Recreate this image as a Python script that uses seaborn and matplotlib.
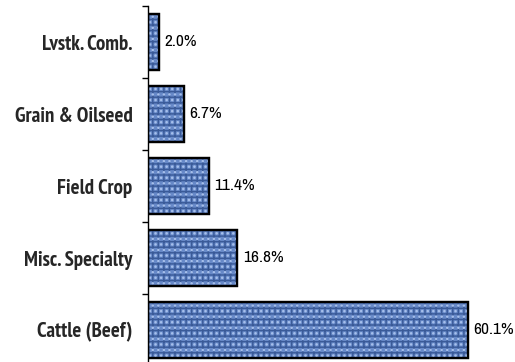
import matplotlib
matplotlib.use("Agg")
import matplotlib.pyplot as plt
from matplotlib import font_manager
from matplotlib.patches import Rectangle
import pandas as pd
import seaborn as sns

# Share of farms by enterprise type
categories = ["Lvstk. Comb.", "Grain & Oilseed", "Field Crop", "Misc. Specialty", "Cattle (Beef)"]
shares = [2.0, 6.7, 11.4, 16.8, 60.1]
value_labels = ["2.0%", "6.7%", "11.4%", "16.8%", "60.1%"]

df = pd.DataFrame({"category": categories, "share": shares})

sns.set_theme(style="white")
plt.rcParams["font.family"] = ["Liberation Sans", "DejaVu Sans"]


def narrow_font(bold):
    """Pick an installed narrow/condensed face, if there is one."""
    for key in ("Narrow", "Condensed"):
        for f in font_manager.fontManager.ttflist:
            name = (f.name + " " + f.fname).lower()
            if key.lower() in name and "oblique" not in name and "italic" not in name:
                is_bold = f.weight in ("bold", 700) or "bold" in f.fname.lower()
                if is_bold == bold:
                    return f.fname
    return None


bold_file = narrow_font(True)
reg_file = narrow_font(False)
if bold_file:
    cat_font = font_manager.FontProperties(fname=bold_file, size=15)
else:
    cat_font = font_manager.FontProperties(family="Liberation Sans", weight="bold", size=11)
if reg_file:
    val_font = font_manager.FontProperties(fname=reg_file, size=12.5)
else:
    val_font = font_manager.FontProperties(family="Liberation Sans", size=10)

fig = plt.figure(figsize=(5.15, 3.62), dpi=100)
ax = fig.add_axes([148 / 515, -4 / 362, 1 - 148 / 515, 360 / 362])

sns.barplot(data=df, y="category", x="share", orient="h", order=categories,
            color="#6789c8", saturation=1, width=0.78,
            edgecolor="black", linewidth=1.6, ax=ax)

# woven look: darker and lighter hatching laid over each bar
for bar in list(ax.patches):
    x0, y0 = bar.get_x(), bar.get_y()
    w, h = bar.get_width(), bar.get_height()
    ax.add_patch(Rectangle((x0, y0), w, h, facecolor="none", edgecolor="#3a5a98",
                           hatch="+++", linewidth=0, zorder=bar.get_zorder() + 0.1))
    ax.add_patch(Rectangle((x0, y0), w, h, facecolor="none", edgecolor="#a6bfeb",
                           hatch="...", linewidth=0, zorder=bar.get_zorder() + 0.2))
    ax.add_patch(Rectangle((x0, y0), w, h, facecolor="none", edgecolor="black",
                           linewidth=1.6, zorder=bar.get_zorder() + 0.3))

for i, (v, lab) in enumerate(zip(shares, value_labels)):
    ax.annotate(lab, xy=(v, i), xytext=(4, 0), textcoords="offset points",
                va="center", ha="left", color="black", fontproperties=val_font)

ax.set_xlim(0, 69)
ax.set_ylim(len(categories) - 0.5, -0.5)
ax.set_xlabel("")
ax.set_ylabel("")
ax.set_xticks([])

# tick marks sit between categories; labels sit at category centres
ax.set_yticks([i - 0.5 for i in range(len(categories) + 1)])
ax.set_yticklabels([])
ax.set_yticks(range(len(categories)), minor=True)
ax.set_yticklabels(categories, minor=True)
for t in ax.get_yticklabels(minor=True):
    t.set_fontproperties(cat_font)
ax.tick_params(axis="y", which="major", length=4.5, width=1, color="black", left=True, direction="out")
ax.tick_params(axis="y", which="minor", length=0, pad=11, left=True)

for side in ["top", "right", "bottom"]:
    ax.spines[side].set_visible(False)
ax.spines["left"].set_color("black")
ax.spines["left"].set_linewidth(1.0)

fig.savefig("out.png", dpi=100)
